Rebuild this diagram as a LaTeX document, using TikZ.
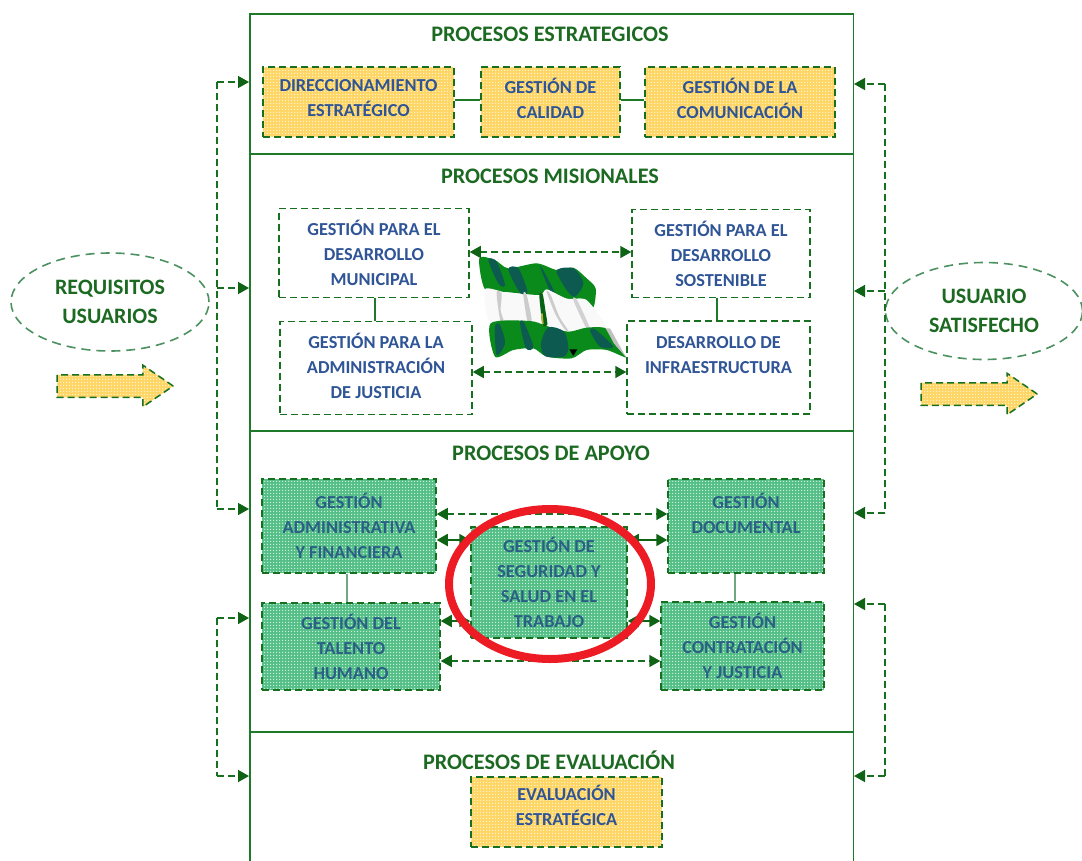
\documentclass[tikz,border=0pt]{standalone}
\usepackage{fontspec}
\setmainfont{Carlito}
\usetikzlibrary{arrows.meta,shapes.geometric,shapes.arrows,patterns}
\pgfdeclarepatternformonly{dither}{\pgfqpoint{0pt}{0pt}}{\pgfqpoint{3pt}{3pt}}{\pgfqpoint{3pt}{3pt}}{%
  \pgfpathrectangle{\pgfqpoint{0pt}{0pt}}{\pgfqpoint{1.5pt}{1.5pt}}\pgfusepath{fill}}
\definecolor{frameg}{HTML}{1E7A2A}
\definecolor{dashg}{HTML}{17701F}
\definecolor{tip}{HTML}{0F6315}
\definecolor{ovalg}{HTML}{4C9160}
\definecolor{titleg}{HTML}{1C6A22}
\definecolor{txtb}{HTML}{2F5597}
\definecolor{txtd}{HTML}{2B5F86}
\definecolor{yel}{HTML}{FFD666}
\definecolor{yeld}{HTML}{FFF3CC}
\definecolor{grn}{HTML}{55BF87}
\definecolor{grnd}{HTML}{C8F0D8}
\definecolor{red1}{HTML}{ED1C24}
\definecolor{fteal}{HTML}{0D5A50}
\definecolor{fgreen}{HTML}{0A8A1A}
\tikzset{
  section/.style={draw=frameg,line width=1.5pt,rectangle,inner sep=0pt,anchor=north west},
  title/.style={font=\fontsize{22.2}{26}\selectfont\bfseries,text=titleg,inner sep=0pt},
  basebox/.style={rectangle,draw=dashg,line width=1.5pt,dash pattern=on 7pt off 4pt,inner sep=0pt,align=center,
     font=\fontsize{18.3}{25}\selectfont\bfseries},
  ybox/.style={basebox,preaction={fill=yel},pattern=dither,pattern color=yeld,text=txtb},
  wbox/.style={basebox,fill=white,text=txtb},
  gbox/.style={basebox,preaction={fill=grn},pattern=dither,pattern color=grnd,text=txtd},
  oval/.style={ellipse,draw=ovalg,line width=1.6pt,dash pattern=on 9pt off 6pt,inner sep=0pt,align=center,
     font=\fontsize{22}{29.5}\selectfont\bfseries,text=titleg},
  plain/.style={draw=frameg,line width=1.5pt},
  pale/.style={draw=ovalg!80!white,line width=2pt},
  dbl/.style={draw=dashg,line width=1.5pt,dash pattern=on 7pt off 4pt,{Triangle[length=11pt,width=12pt,color=tip]}-{Triangle[length=11pt,width=12pt,color=tip]}},
  sld/.style={draw=tip,line width=1.8pt,{Triangle[length=11pt,width=12pt]}-{Triangle[length=11pt,width=12pt]}},
  busl/.style={draw=dashg,line width=1.5pt,dash pattern=on 7pt off 4pt,-{Triangle[length=11pt,width=12pt,color=tip]}},
  bus/.style={draw=dashg,line width=1.5pt,dash pattern=on 7pt off 4pt},
  blockarr/.style={single arrow,draw=dashg,preaction={fill=yel},pattern=dither,pattern color=yeld,line width=1.5pt,dash pattern=on 7pt off 4pt,inner sep=0pt,
     minimum height=116pt,minimum width=40pt,single arrow head extend=9.5pt,single arrow head indent=0pt,single arrow tip angle=69},
}
\begin{document}
\begin{tikzpicture}[x=1pt,y=-1pt]
\useasboundingbox (0,0) rectangle (1082,860);
\clip (0,0) rectangle (1082,860);
\fill[white] (0,0) rectangle (1082,860);

% sections
\node[section,minimum width=603.5pt,minimum height=140pt] (sec1) at (249,13) {};
\node[section,minimum width=603.5pt,minimum height=277pt] (sec2) at (249,153) {};
\node[section,minimum width=603.5pt,minimum height=301pt] (sec3) at (249,430) {};
\node[section,minimum width=603.5pt,minimum height=140pt] (sec4) at (249,731) {};

% titles
\node[title] (t1) at (550,34) {PROCESOS ESTRATEGICOS};
\node[title] (t2) at (550,176) {PROCESOS MISIONALES};
\node[title] (t3) at (551,453) {PROCESOS DE APOYO};
\node[title] (t4) at (549,760) {PROCESOS DE EVALUACIÓN};

% estrategicos
\node[ybox,minimum width=191pt,minimum height=70pt] (dir) at (358.5,102) {DIRECCIONAMIENTO\\ESTRATÉGICO\\[-17pt]\mbox{}};
\node[ybox,minimum width=139pt,minimum height=70pt] (cal) at (550.5,102) {GESTIÓN DE\\CALIDAD\\[-17pt]\mbox{}};
\node[ybox,minimum width=190pt,minimum height=70pt] (com) at (740,102) {GESTIÓN DE LA\\COMUNICACIÓN\\[-17pt]\mbox{}};

% misionales
\node[wbox,minimum width=190pt,minimum height=89pt] (gdm) at (374,253) {GESTIÓN PARA EL\\DESARROLLO\\MUNICIPAL};
\node[wbox,minimum width=192pt,minimum height=93pt] (gaj) at (376,368) {GESTIÓN PARA LA\\ADMINISTRACIÓN\\DE JUSTICIA\\[-21pt]\mbox{}};
\node[wbox,minimum width=178pt,minimum height=88pt] (gds) at (721,253.5) {GESTIÓN PARA EL\\DESARROLLO\\SOSTENIBLE};
\node[wbox,minimum width=183pt,minimum height=93pt] (inf) at (718.5,367.5) {DESARROLLO DE\\INFRAESTRUCTURA\\\mbox{}};

% flag
\begin{scope}[shift={(440,200)},x=0.3333pt,y=-0.3333pt]
  \fill[fgreen] plot[smooth cycle,tension=0.45] coordinates {(118,175)(165,180)(205,205)(290,190)(350,210)(400,203)(440,235)(467,265)(460,322)(430,300)(380,296)(320,270)(298,285)(200,276)(135,268)};
  \fill[fteal] plot[smooth cycle,tension=0.5] coordinates {(145,180)(170,185)(195,255)(175,250)};
  \fill[fteal] plot[smooth cycle,tension=0.5] coordinates {(205,208)(235,205)(262,275)(240,278)};
  \fill[fteal] plot[smooth cycle,tension=0.5] coordinates {(300,200)(312,215)(345,280)(330,272)};
  \fill[fteal] plot[smooth cycle,tension=0.5] coordinates {(350,212)(400,205)(430,250)(405,290)(380,270)};
  \fill[white!95!gray] plot[smooth cycle,tension=0.4] coordinates {(135,268)(200,278)(298,287)(320,268)(380,296)(440,300)(500,385)(440,385)(385,395)(320,376)(270,364)(152,368)};
  \fill[gray!40] plot[smooth cycle,tension=0.5] coordinates {(170,275)(185,280)(182,330)(192,365)(182,365)(174,320)};
  \fill[gray!40] plot[smooth cycle,tension=0.5] coordinates {(250,282)(260,285)(275,360)(262,362)};
  \fill[gray!40] plot[smooth cycle,tension=0.5] coordinates {(320,275)(332,285)(358,350)(385,392)(372,385)(345,340)};
  \fill[gray!35] plot[smooth cycle,tension=0.5] coordinates {(400,300)(412,302)(450,385)(438,383)};
  \fill[fgreen] plot[smooth cycle,tension=0.45] coordinates {(152,370)(270,363)(320,378)(385,395)(440,383)(497,385)(522,430)(558,472)(500,450)(440,450)(395,475)(320,470)(280,445)(220,450)(165,470)};
  \fill[fteal] plot[smooth cycle,tension=0.5] coordinates {(165,380)(180,375)(195,430)(170,465)};
  \fill[fteal] plot[smooth cycle,tension=0.5] coordinates {(240,370)(252,368)(280,440)(258,445)};
  \fill[fteal] plot[smooth cycle,tension=0.5] coordinates {(325,382)(372,395)(385,445)(370,470)(315,468)(303,430)};
  \fill[fteal] plot[smooth cycle,tension=0.5] coordinates {(450,392)(465,388)(520,440)(480,440)};
  \fill[black] (388,448) -- (412,448) -- (400,468) -- cycle;
  \fill[gray!50] (497,385) -- (510,385) -- (558,472) -- (522,430) -- cycle;
  \fill[fgreen!70!black] plot[smooth cycle,tension=0.5] coordinates {(298,282)(308,282)(316,330)(322,375)(308,375)(302,330)};
  \fill[yellow!70!black] (303,340) -- (308,340) -- (311,372) -- (306,372) -- cycle;
\end{scope}

% apoyo
\node[gbox,minimum width=174pt,minimum height=94pt] (gaf) at (349,526) {GESTIÓN\\ADMINISTRATIVA\\Y FINANCIERA};
\node[gbox,minimum width=156pt,minimum height=94pt] (gdo) at (746,526) {GESTIÓN\\DOCUMENTAL\\\mbox{}};
\node[gbox,minimum width=156pt,minimum height=111pt] (gss) at (549,582.5) {GESTIÓN DE\\SEGURIDAD Y\\SALUD EN EL\\TRABAJO};
\node[gbox,minimum width=178pt,minimum height=87pt] (gth) at (351,646.5) {GESTIÓN DEL\\TALENTO\\HUMANO};
\node[gbox,minimum width=163pt,minimum height=88pt] (gcj) at (742.5,646) {GESTIÓN\\CONTRATACIÓN\\Y JUSTICIA};

% evaluacion
\node[ybox,minimum width=191pt,minimum height=70pt] (eva) at (566.5,812) {EVALUACIÓN\\ESTRATÉGICA\\[-12pt]\mbox{}};

% plain links
\draw[plain] (dir.east |- 0,100) -- (cal.west |- 0,100);
\draw[plain] (cal.east |- 0,100) -- (com.west |- 0,100);
\draw[plain] (gdm.south -| 375,0) -- (gaj.north -| 375,0);
\draw[plain] (gds.south -| 717,0) -- (inf.north -| 717,0);
\draw[pale] (gaf.south -| 347,0) -- (gth.north -| 347,0);
\draw[pale] (gdo.south -| 735,0) -- (gcj.north -| 735,0);

% two-way links
\draw[dbl] (gdm.east |- 0,252) -- (gds.west |- 0,252);
\draw[dbl] (gaj.east |- 0,372) -- (inf.west |- 0,372);
\draw[dbl] (gaf.east |- 0,514) -- (gdo.west |- 0,514);
\draw[sld] (gaf.east |- 0,540) -- (gss.west |- 0,540);
\draw[sld] (gss.east |- 0,540) -- (gdo.west |- 0,540);
\draw[sld] (gth.east |- 0,621) -- (gss.west |- 0,621);
\draw[sld] (gss.east |- 0,621) -- (gcj.west |- 0,621);
\draw[dbl] (gth.east |- 0,661) -- (gcj.west |- 0,661);

% red ring
\node[ellipse,draw=red1,line width=8pt,minimum width=202pt,minimum height=150pt,inner sep=0pt] (ring) at (550,584) {};

% side ovals and arrows
\node[oval,minimum width=198pt,minimum height=98pt] (req) at (110,302) {REQUISITOS\\USUARIOS};
\node[oval,minimum width=197pt,minimum height=97pt] (sat) at (984,311) {USUARIO\\SATISFECHO};
\node[blockarr] (arl) at (107,386) {\rule{1pt}{0pt}\rule[-10.5pt]{0pt}{21pt}};
\node[blockarr] (arr) at (971,394) {\rule{1pt}{0pt}\rule[-10.5pt]{0pt}{21pt}};

% left buses
\coordinate (la) at (217,82);
\coordinate (lb) at (217,288);
\coordinate (lc) at (217,509);
\coordinate (ld) at (217,618);
\coordinate (le) at (217,776);
\draw[bus] (la) -- (lc);
\draw[busl] (la) -- (sec1.west |- la);
\draw[busl] (lb) -- (sec2.west |- lb);
\draw[busl] (lc) -- (sec3.west |- lc);
\draw[bus] (ld) -- (le);
\draw[busl] (ld) -- (sec3.west |- ld);
\draw[busl] (le) -- (sec4.west |- le);

% right buses
\coordinate (ra) at (885,84);
\coordinate (rb) at (885,291);
\coordinate (rc) at (885,513);
\coordinate (rd) at (885,604);
\coordinate (re) at (885,776);
\draw[bus] (ra) -- (rc);
\draw[busl] (ra) -- (sec1.east |- ra);
\draw[busl] (rb) -- (sec2.east |- rb);
\draw[busl] (rc) -- (sec3.east |- rc);
\draw[bus] (rd) -- (re);
\draw[busl] (rd) -- (sec3.east |- rd);
\draw[busl] (re) -- (sec4.east |- re);
\end{tikzpicture}
\end{document}
